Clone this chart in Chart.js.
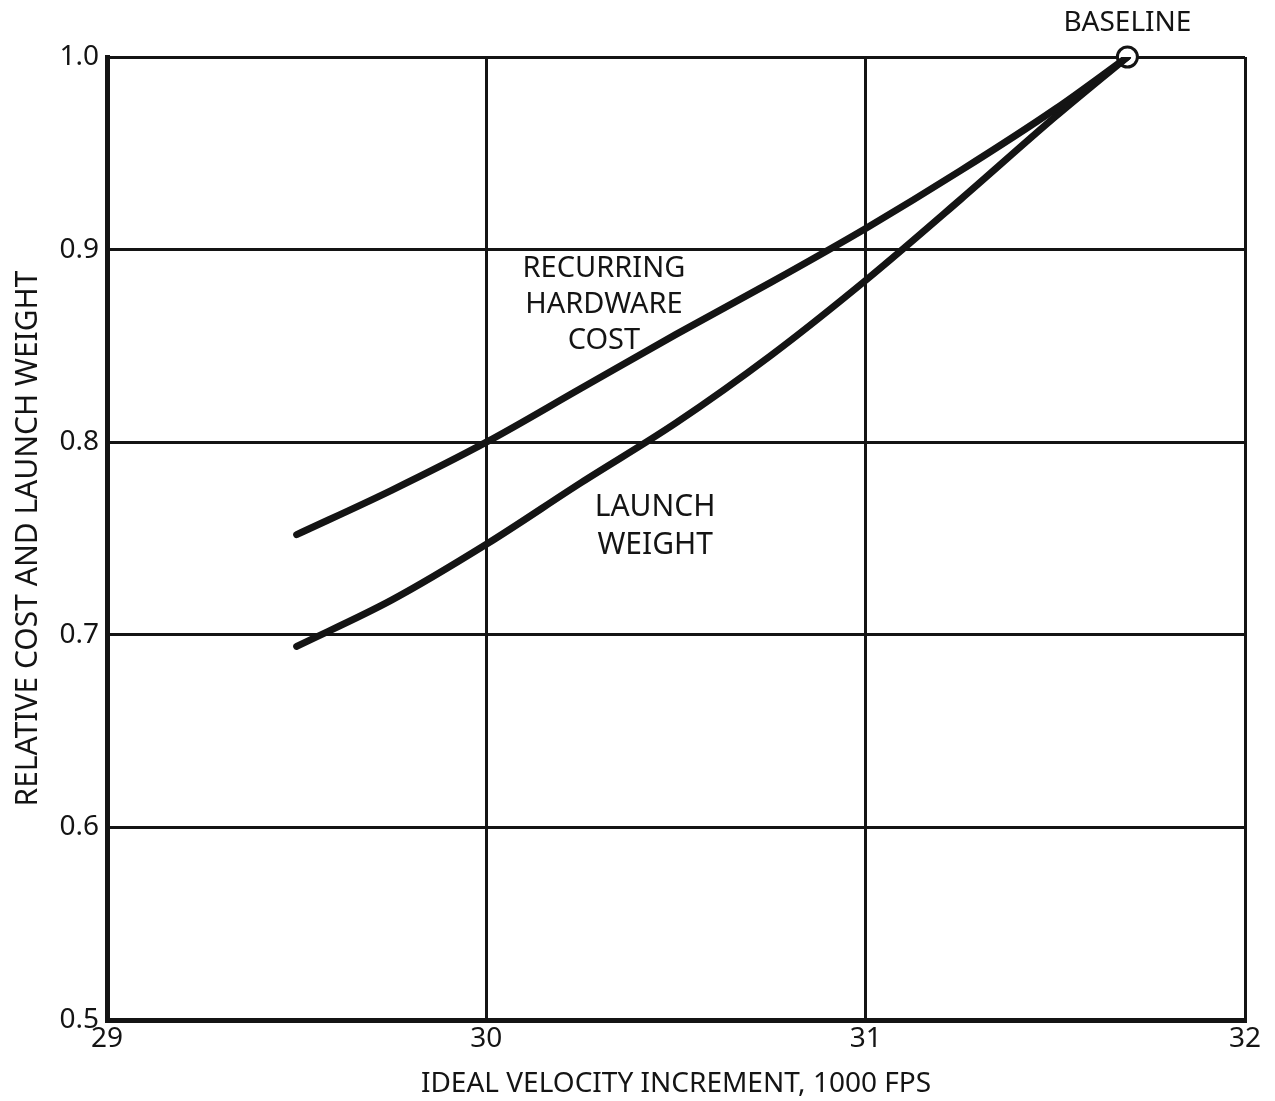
<!DOCTYPE html>
<html>
<head>
<meta charset="utf-8">
<script src="https://cdn.jsdelivr.net/npm/chart.js@4/dist/chart.umd.min.js"></script>
<style>
  html, body { margin: 0; padding: 0; background: #fff; }
  #wrap { width: 1275px; height: 1101px; }
</style>
</head>
<body>
<div id="wrap"><canvas id="chart" width="1275" height="1101"></canvas></div>
<script>
// values
const velocity     = [29.5, 29.75, 30.0, 30.25, 30.5, 30.75, 31.0, 31.25, 31.5, 31.69];
const costValues   = [0.752, 0.775, 0.800, 0.828, 0.856, 0.883, 0.911, 0.941, 0.973, 1.0];
const weightValues = [0.694, 0.718, 0.747, 0.779, 0.810, 0.845, 0.884, 0.926, 0.969, 1.0];
const baselinePoint = [31.69, 1.0];
const xTicks = [29, 30, 31, 32];
const yTicks = [0.5, 0.6, 0.7, 0.8, 0.9, 1.0];

const FONT = '"Noto Sans", sans-serif';
const INK = '#141414';

function toPoints(xs, ys) {
    return xs.map((x, i) => ({ x: x, y: ys[i] }));
}

// text labels placed in data coords
const curveLabels = [
    { x: 30.31, y: 0.890, lines: ['RECURRING', 'HARDWARE', 'COST'], size: 29, gap: 36 },
    { x: 30.445, y: 0.766, lines: ['LAUNCH', 'WEIGHT'], size: 30, gap: 38 },
    { x: 31.69, y: 1.0, lines: ['BASELINE'], size: 28, gap: 0, offsetY: -34 }
];

const labelPlugin = {
    id: 'curveLabels',
    afterDatasetsDraw(chart) {
        const ctx = chart.ctx;
        const xs = chart.scales.x, ys = chart.scales.y;
        ctx.save();
        ctx.fillStyle = INK;
        ctx.textAlign = 'center';
        ctx.textBaseline = 'middle';
        curveLabels.forEach(l => {
            ctx.font = l.size + 'px ' + FONT;
            const px = xs.getPixelForValue(l.x);
            const py = ys.getPixelForValue(l.y) + (l.offsetY || 0);
            l.lines.forEach((t, i) => ctx.fillText(t, px, py + i * l.gap));
        });
        ctx.restore();
    }
};

new Chart(document.getElementById('chart'), {
    type: 'line',
    data: {
        datasets: [
            {
                label: 'Recurring Hardware Cost',
                data: toPoints(velocity, costValues),
                borderColor: INK,
                borderWidth: 7,
                pointRadius: 0,
                cubicInterpolationMode: 'monotone',
                borderCapStyle: 'round'
            },
            {
                label: 'Launch Weight',
                data: toPoints(velocity, weightValues),
                borderColor: INK,
                borderWidth: 7,
                pointRadius: 0,
                cubicInterpolationMode: 'monotone',
                borderCapStyle: 'round'
            },
            {
                label: 'Baseline',
                data: [{ x: baselinePoint[0], y: baselinePoint[1] }],
                showLine: false,
                clip: false,
                pointRadius: 10,
                pointBackgroundColor: '#fff',
                pointBorderColor: INK,
                pointBorderWidth: 3
            }
        ]
    },
    options: {
        responsive: false,
        animation: false,
        layout: { padding: { top: 57, right: 30, left: 10, bottom: 0 } },
        plugins: { legend: { display: false }, tooltip: { enabled: false } },
        scales: {
            x: {
                type: 'linear',
                min: 29, max: 32,
                afterBuildTicks: s => { s.ticks = xTicks.map(v => ({ value: v })); },
                afterFit: s => { s.height = 81; },
                grid: { color: INK, lineWidth: 3, drawTicks: false },
                border: { color: INK, width: 5 },
                ticks: {
                    color: INK, padding: 2,
                    font: { family: FONT, size: 28 },
                    callback: v => String(v)
                },
                title: {
                    display: true,
                    text: 'IDEAL VELOCITY INCREMENT, 1000 FPS',
                    color: INK,
                    font: { family: FONT, size: 28 },
                    padding: { top: 0, bottom: 0 }
                }
            },
            y: {
                min: 0.5, max: 1.0,
                afterBuildTicks: s => { s.ticks = yTicks.map(v => ({ value: v })); },
                afterFit: s => { s.width = 97; },
                grid: { color: INK, lineWidth: 3, drawTicks: false },
                border: { color: INK, width: 5 },
                ticks: {
                    color: INK, padding: 8,
                    font: { family: FONT, size: 28 },
                    callback: v => v.toFixed(1)
                },
                title: {
                    display: true,
                    text: 'RELATIVE COST AND LAUNCH WEIGHT',
                    color: INK,
                    font: { family: FONT, size: 30 },
                    padding: { top: 0, bottom: 2 }
                }
            }
        }
    },
    plugins: [labelPlugin]
});
</script>
</body>
</html>
